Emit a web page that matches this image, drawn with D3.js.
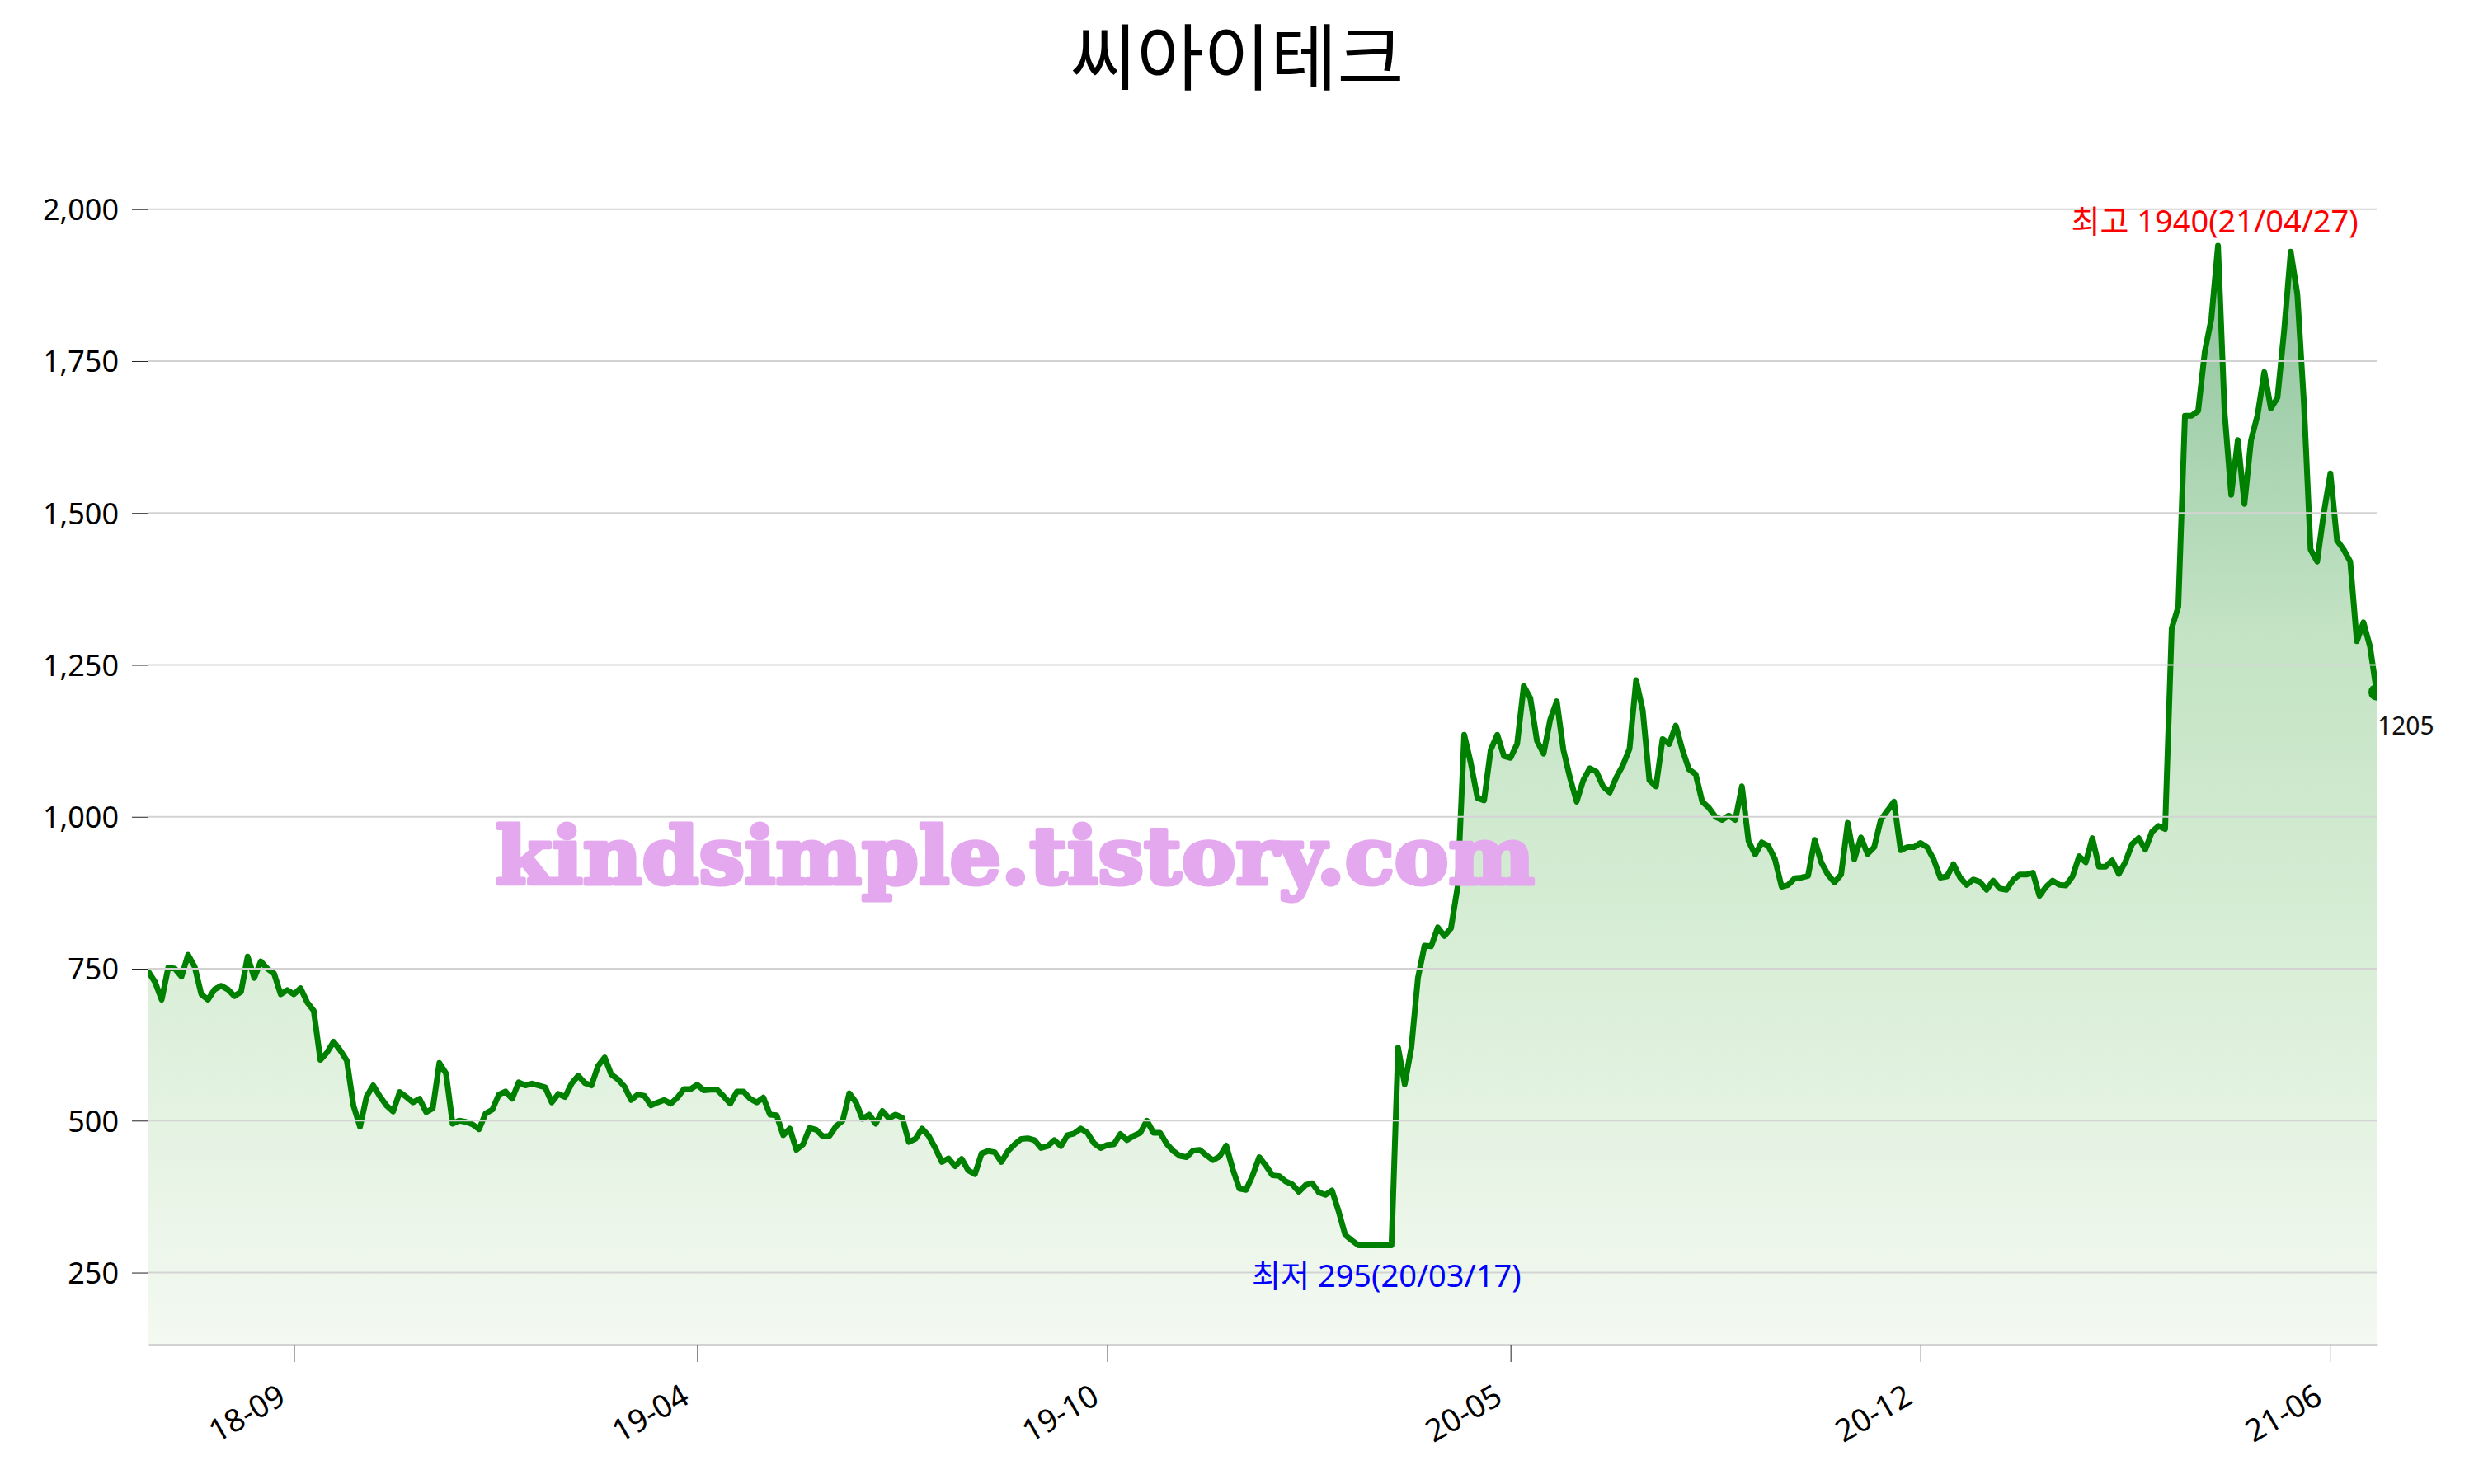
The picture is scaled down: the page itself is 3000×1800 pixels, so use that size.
<!DOCTYPE html>
<html>
<head>
<meta charset="utf-8">
<script src="https://cdn.jsdelivr.net/npm/d3@7/dist/d3.min.js"></script>
<style>
  body { margin: 0; background: #fff; }
  svg { display: block; }
</style>
</head>
<body>
<div id="chart"></div>
<script>
var title = '씨아이테크';
var watermark = 'kindsimple.tistory.com';

// closing prices, oldest first
var closes = [
  745, 728, 699, 752, 750, 737, 773, 753, 708, 699, 716, 722, 716, 705, 712, 770, 735, 762, 750, 742,
  708, 715, 708, 718, 695, 681, 600, 612, 630, 616, 599, 525, 490, 540, 558, 540, 525, 515, 547, 539,
  530, 536, 514, 520, 595, 578, 495, 500, 498, 494, 486, 512, 518, 543, 548, 536, 563, 558, 561, 558,
  555, 530, 544, 539, 561, 574, 562, 558, 590, 604, 576, 568, 556, 534, 543, 541, 525, 530, 534, 528,
  538, 552, 552, 559, 550, 551, 551, 540, 528, 548, 548, 536, 530, 538, 510, 509, 476, 487, 452, 461,
  488, 485, 474, 475, 491, 500, 545, 530, 503, 510, 495, 516, 504, 510, 505, 465, 470, 487, 475, 455,
  432, 438, 425, 437, 418, 412, 446, 450, 448, 432, 450, 461, 470, 471, 468, 455, 458, 468, 458, 476,
  479, 487, 480, 463, 455, 460, 461, 478, 468, 475, 480, 500, 480, 480, 462, 450, 442, 440, 451, 452,
  443, 435, 441, 459, 420, 388, 386, 410, 440, 426, 410, 409, 400, 395, 383, 394, 397, 382, 378, 385,
  351, 312, 303, 295, 295, 295, 295, 295, 295, 620, 560, 620, 735, 788, 787, 818, 804, 817, 885, 1135,
  1088, 1031, 1027, 1110, 1135, 1100, 1097, 1120, 1215, 1195, 1125, 1104, 1160, 1190, 1110, 1064, 1025, 1060, 1080, 1074,
  1050, 1040, 1065, 1085, 1112, 1225, 1175, 1060, 1050, 1128, 1120, 1150, 1110, 1078, 1070, 1025, 1015, 1000, 995, 1002,
  995, 1050, 960, 938, 958, 952, 930, 885, 888, 899, 900, 903, 962, 925, 905, 892, 905, 990, 930, 966,
  939, 950, 995, 1010, 1025, 945, 950, 950, 957, 950, 930, 900, 902, 922, 900, 888, 897, 893, 880, 895,
  882, 880, 896, 905, 905, 908, 870, 885, 895, 888, 887, 902, 935, 925, 965, 918, 918, 928, 906, 926,
  955, 965, 946, 975, 985, 980, 1310, 1346, 1660, 1660, 1668, 1765, 1820, 1940, 1665, 1530, 1620, 1515, 1620, 1662,
  1732, 1672, 1690, 1800, 1930, 1860, 1680, 1440, 1420, 1500, 1565, 1455, 1440, 1420, 1289, 1320, 1280, 1205
];

var tickIdx = [22, 83, 145, 206, 268, 330];
var tickLabels = ['18-09', '19-04', '19-10', '20-05', '20-12', '21-06'];
var yTicks = [250, 500, 750, 1000, 1250, 1500, 1750, 2000];
var highDate = '21/04/27';
var lowDate = '20/03/17';

var W = 3000, H = 1800;
var plotL = 180, plotR = 2882, plotT = 180, plotB = 1632;
var font = '"Noto Sans", "Noto Sans CJK KR", sans-serif';

var svg = d3.select('#chart').append('svg')
  .attr('width', W)
  .attr('height', H)
  .style('font-family', font);

var x = d3.scaleLinear().domain([0, closes.length - 1]).range([plotL, plotR]);
var y = d3.scaleLinear().domain([130, 2100]).range([plotB, plotT]);

var maxV = d3.max(closes), minV = d3.min(closes);
var highIdx = closes.indexOf(maxV);
var lowIdx = closes.lastIndexOf(minV);
var last = closes.length - 1;

var defs = svg.append('defs');
var grad = defs.append('linearGradient')
  .attr('id', 'fillGrad')
  .attr('gradientUnits', 'userSpaceOnUse')
  .attr('x1', 0).attr('x2', 0)
  .attr('y1', y(maxV)).attr('y2', plotB);
grad.append('stop').attr('offset', '0%').attr('stop-color', '#8cc29b');
grad.append('stop').attr('offset', '35%').attr('stop-color', '#c3e3c4');
grad.append('stop').attr('offset', '65%').attr('stop-color', '#d9eed7');
grad.append('stop').attr('offset', '100%').attr('stop-color', '#f4f9f2');

defs.append('clipPath').attr('id', 'plotClip')
  .append('rect')
  .attr('x', plotL).attr('y', 0)
  .attr('width', plotR - plotL).attr('height', plotB);

//title
svg.append('text')
  .attr('x', 1500)
  .attr('y', 102)
  .attr('text-anchor', 'middle')
  .style('font-family', '"Noto Sans CJK KR", sans-serif')
  .style('font-size', '88px')
  .style('fill', '#000')
  .text(title);

var plot = svg.append('g').attr('clip-path', 'url(#plotClip)');

//area under the line
var area = d3.area()
  .x(function(d, i) { return x(i); })
  .y0(plotB)
  .y1(function(d) { return y(d); });

plot.append('path')
  .datum(closes)
  .attr('d', area)
  .attr('fill', 'url(#fillGrad)');

//grid
svg.append('g')
  .selectAll('line')
  .data(yTicks)
  .enter().append('line')
    .attr('x1', plotL).attr('x2', plotR)
    .attr('y1', function(d) { return y(d); })
    .attr('y2', function(d) { return y(d); })
    .attr('stroke', '#d3d3d3')
    .attr('stroke-width', 2);

//y axis
var yAxis = svg.append('g')
  .attr('transform', 'translate(' + plotL + ',0)')
  .call(d3.axisLeft(y).tickValues(yTicks).tickSize(20).tickPadding(16).tickFormat(d3.format(',')));
yAxis.select('.domain').remove();
yAxis.selectAll('.tick line').attr('stroke', '#222');
yAxis.selectAll('.tick text')
  .attr('dy', '0.36em')
  .style('font-size', '36px')
  .style('font-family', font)
  .style('fill', '#000');

//x axis
var xAxis = svg.append('g')
  .attr('transform', 'translate(0,' + (plotB - 1) + ')')
  .call(d3.axisBottom(x).tickValues(tickIdx).tickSizeInner(21).tickSizeOuter(0)
    .tickFormat(function(d, i) { return tickLabels[i]; }));
xAxis.select('.domain').attr('stroke', '#d3d3d3').attr('stroke-width', 3);
xAxis.selectAll('.tick line').attr('stroke', '#222');
xAxis.selectAll('.tick text')
  .attr('x', 0).attr('y', 0).attr('dy', 0)
  .attr('transform', 'translate(-8,70) rotate(-30)')
  .attr('text-anchor', 'end')
  .style('font-size', '38px')
  .style('font-family', font)
  .style('fill', '#000');

//price line
var line = d3.line()
  .x(function(d, i) { return x(i); })
  .y(function(d) { return y(d); });

plot.append('path')
  .datum(closes)
  .attr('d', line)
  .attr('fill', 'none')
  .attr('stroke', '#008000')
  .attr('stroke-width', 7)
  .attr('stroke-linejoin', 'round')
  .attr('stroke-linecap', 'round');

plot.append('circle')
  .attr('cx', x(last))
  .attr('cy', y(closes[last]))
  .attr('r', 10)
  .attr('fill', '#008000');

//labels
svg.append('text')
  .attr('x', x(highIdx) - 4)
  .attr('y', y(maxV) - 16)
  .attr('text-anchor', 'middle')
  .style('font-size', '38px')
  .style('fill', '#ff0000')
  .text('최고 ' + maxV + '(' + highDate + ')');

svg.append('text')
  .attr('x', x(lowIdx) - 6)
  .attr('y', y(minV) + 51)
  .attr('text-anchor', 'middle')
  .style('font-size', '38px')
  .style('fill', '#0000ff')
  .text('최저 ' + minV + '(' + lowDate + ')');

svg.append('text')
  .attr('x', x(last) + 1)
  .attr('y', y(closes[last]) + 51)
  .style('font-size', '30px')
  .style('fill', '#111')
  .text(closes[last]);

//watermark
svg.append('text')
  .attr('x', 601)
  .attr('y', 1072)
  .attr('textLength', 1260)
  .attr('lengthAdjust', 'spacingAndGlyphs')
  .style('font-family', '"DejaVu Serif", serif')
  .style('font-weight', 'bold')
  .style('font-size', '96px')
  .style('fill', '#e4a8ef')
  .style('stroke', '#e4a8ef')
  .style('stroke-width', 5)
  .style('stroke-linejoin', 'round')
  .text(watermark);
</script>
</body>
</html>
